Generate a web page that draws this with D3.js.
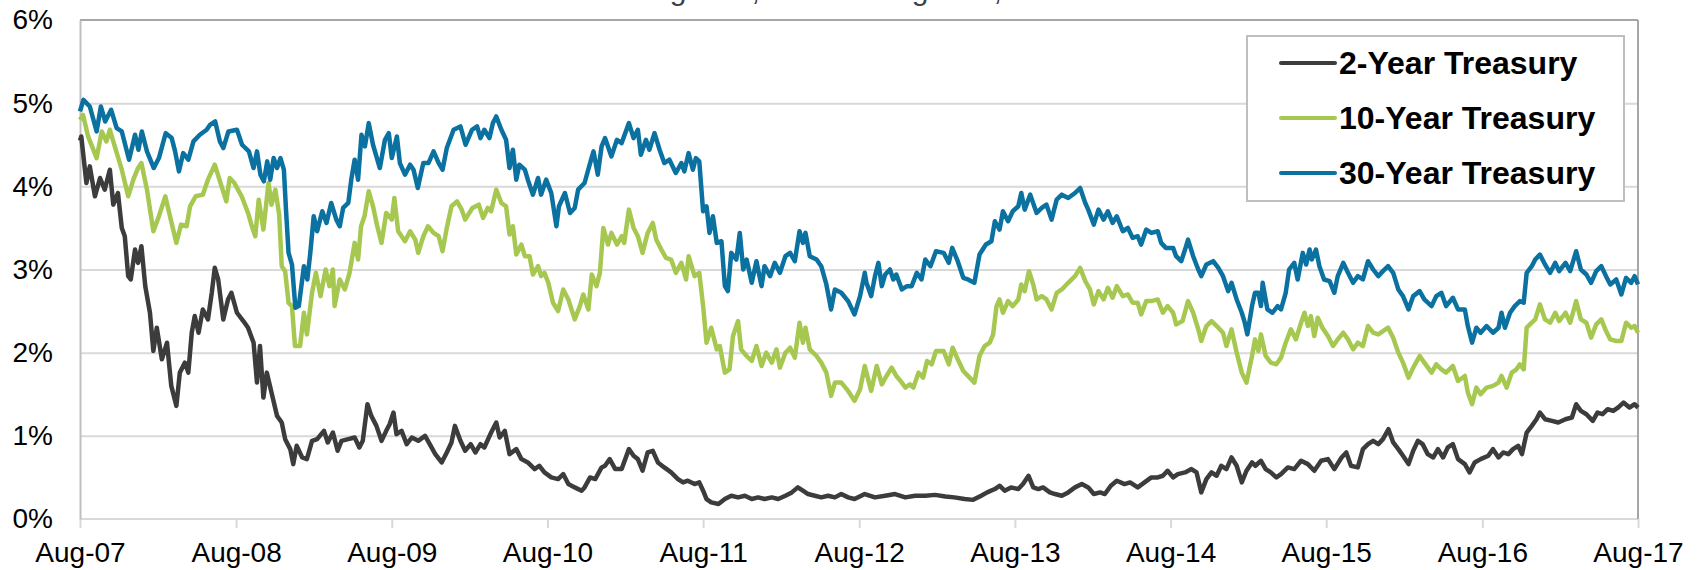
<!DOCTYPE html>
<html><head><meta charset="utf-8">
<script src="https://cdn.jsdelivr.net/npm/d3@7"></script>
<style>body{margin:0;background:#fff;} svg{display:block;font-family:"Liberation Sans",Arial,sans-serif;}</style>
</head><body><svg id="chart" width="1701" height="570"></svg>
<script>
const titleText = "August 1, 2007 to August 1, 2017";
const seriesNames = ["2-Year Treasury", "10-Year Treasury", "30-Year Treasury"];
const seriesColors = ["#3c3c3c", "#a6c850", "#0a71a0"];
const yTicks = [0, 1, 2, 3, 4, 5, 6];
const xTickDates = ["2007-08-01","2008-08-01","2009-08-01","2010-08-01","2011-08-01","2012-08-01","2013-08-01","2014-08-01","2015-08-01","2016-08-01","2017-08-01"];
const xTickLabels = ["Aug-07","Aug-08","Aug-09","Aug-10","Aug-11","Aug-12","Aug-13","Aug-14","Aug-15","Aug-16","Aug-17"];

const dates2y = ["2007-08-01","2007-08-04","2007-08-16","2007-08-24","2007-09-05","2007-09-17","2007-09-28","2007-10-10","2007-10-18","2007-10-29","2007-11-07","2007-11-14","2007-11-22","2007-11-28","2007-12-08","2007-12-15","2007-12-23",
"2008-01-01","2008-01-12","2008-01-20","2008-01-28","2008-02-09","2008-02-21","2008-03-02","2008-03-14","2008-03-22","2008-04-03","2008-04-11","2008-04-19","2008-04-26","2008-05-05","2008-05-15","2008-05-27","2008-06-05","2008-06-12","2008-06-20","2008-07-02","2008-07-13","2008-07-21","2008-08-03","2008-08-18","2008-08-29","2008-09-11","2008-09-19","2008-09-26","2008-10-04","2008-10-12","2008-10-23","2008-11-05","2008-11-16","2008-11-24","2008-12-06","2008-12-13","2008-12-21",
"2009-01-03","2009-01-14","2009-01-26","2009-02-07","2009-02-23","2009-03-04","2009-03-16","2009-03-27","2009-04-05","2009-04-21","2009-05-06","2009-05-17","2009-05-25","2009-06-05","2009-06-14","2009-06-26","2009-07-08","2009-07-19","2009-07-27","2009-08-05","2009-08-12","2009-08-24","2009-09-05","2009-09-17","2009-10-02","2009-10-18","2009-10-29","2009-11-11","2009-11-26","2009-12-08","2009-12-19","2009-12-27",
"2010-01-09","2010-01-20","2010-02-02","2010-02-13","2010-02-25","2010-03-06","2010-03-22","2010-04-03","2010-04-11","2010-04-23","2010-05-04","2010-05-20","2010-06-01","2010-06-16","2010-07-02","2010-07-13","2010-07-25","2010-08-10","2010-08-26","2010-09-07","2010-09-19","2010-10-04","2010-10-20","2010-10-27","2010-11-09","2010-11-21","2010-12-06","2010-12-14","2010-12-25",
"2011-01-07","2011-01-22","2011-02-08","2011-02-19","2011-03-01","2011-03-12","2011-03-24","2011-04-05","2011-04-17","2011-05-02","2011-05-18","2011-06-03","2011-06-15","2011-06-26","2011-07-12","2011-07-23","2011-08-01","2011-08-09","2011-08-20","2011-09-06","2011-09-21","2011-10-06","2011-10-22","2011-11-07","2011-11-23","2011-12-08","2011-12-23",
"2012-01-09","2012-01-24","2012-02-10","2012-02-25","2012-03-10","2012-03-22","2012-04-03","2012-04-19","2012-05-04","2012-05-20","2012-06-05","2012-06-20","2012-07-06","2012-07-21","2012-08-14","2012-09-07","2012-10-01","2012-10-24","2012-11-17","2012-12-10",
"2013-01-03","2013-01-26","2013-02-19","2013-03-12","2013-04-05","2013-04-25","2013-05-14","2013-05-28","2013-06-15","2013-06-26","2013-07-08","2013-07-23","2013-08-09","2013-08-20","2013-09-02","2013-09-13","2013-09-25","2013-10-06","2013-10-22","2013-11-03","2013-11-19","2013-12-04","2013-12-20",
"2014-01-05","2014-01-20","2014-02-02","2014-02-17","2014-02-28","2014-03-14","2014-03-28","2014-04-15","2014-04-28","2014-05-16","2014-06-01","2014-06-17","2014-07-02","2014-07-14","2014-07-25","2014-08-07","2014-08-18","2014-09-04","2014-09-19","2014-10-01","2014-10-12","2014-10-24","2014-11-05","2014-11-17","2014-11-28","2014-12-10","2014-12-22",
"2015-01-03","2015-01-15","2015-01-26","2015-02-08","2015-02-16","2015-03-01","2015-03-12","2015-03-24","2015-04-06","2015-04-17","2015-05-03","2015-05-18","2015-06-03","2015-06-19","2015-07-04","2015-07-20","2015-08-05","2015-08-20","2015-09-06","2015-09-17","2015-09-28","2015-10-14","2015-10-26","2015-11-07","2015-11-19","2015-12-01","2015-12-12","2015-12-25",
"2016-01-05","2016-01-17","2016-01-28","2016-02-10","2016-02-21","2016-03-03","2016-03-14","2016-03-26","2016-04-08","2016-04-19","2016-05-01","2016-05-12","2016-05-24","2016-06-05","2016-06-21","2016-07-02","2016-07-14","2016-07-28","2016-08-15","2016-08-26","2016-09-08","2016-09-19","2016-10-01","2016-10-12","2016-10-24","2016-11-02","2016-11-13","2016-11-25","2016-12-06","2016-12-14","2016-12-26",
"2017-01-11","2017-01-26","2017-02-12","2017-02-27","2017-03-09","2017-03-20","2017-04-02","2017-04-17","2017-04-28","2017-05-10","2017-05-22","2017-06-04","2017-06-15","2017-06-28","2017-07-12","2017-07-24","2017-08-01"];
const yield2y = [4.55,4.60,4.04,4.24,3.88,4.10,3.96,4.20,3.78,3.92,3.50,3.40,2.92,2.88,3.24,3.08,3.28,
2.80,2.48,2.02,2.30,1.92,2.12,1.60,1.36,1.76,1.88,1.76,2.24,2.44,2.24,2.52,2.40,2.72,3.02,2.88,2.40,2.64,2.72,2.48,2.38,2.30,2.12,1.64,2.08,1.46,1.76,1.52,1.24,1.16,0.96,0.84,0.66,0.88,
0.74,0.72,0.94,0.96,1.06,0.92,1.04,0.82,0.94,0.96,0.98,0.86,0.94,1.38,1.24,1.12,0.94,1.06,1.14,1.28,1.02,1.06,0.90,0.98,0.94,1.00,0.90,0.78,0.68,0.80,0.92,1.12,
0.94,0.82,0.90,0.80,0.90,0.86,1.04,1.16,0.98,1.06,0.78,0.84,0.72,0.68,0.60,0.64,0.56,0.50,0.48,0.54,0.42,0.38,0.34,0.38,0.50,0.48,0.62,0.64,0.72,
0.60,0.60,0.84,0.76,0.72,0.58,0.80,0.82,0.68,0.62,0.56,0.48,0.44,0.46,0.42,0.44,0.34,0.24,0.20,0.18,0.24,0.28,0.26,0.28,0.24,0.26,0.24,
0.26,0.24,0.28,0.32,0.38,0.34,0.30,0.28,0.26,0.28,0.26,0.30,0.26,0.24,0.30,0.26,0.28,0.30,0.26,0.28,
0.28,0.29,0.27,0.26,0.24,0.23,0.28,0.32,0.36,0.40,0.34,0.38,0.36,0.42,0.52,0.38,0.36,0.38,0.32,0.30,0.28,0.32,0.38,
0.42,0.38,0.30,0.32,0.30,0.40,0.46,0.42,0.44,0.38,0.44,0.50,0.50,0.52,0.58,0.50,0.54,0.56,0.60,0.56,0.32,0.48,0.56,0.52,0.64,0.60,0.74,
0.64,0.44,0.58,0.68,0.64,0.70,0.60,0.56,0.50,0.54,0.62,0.60,0.70,0.66,0.58,0.70,0.72,0.60,0.74,0.80,0.64,0.62,0.84,0.90,0.94,0.90,0.96,1.08,
0.92,0.84,0.76,0.66,0.82,0.94,0.90,0.78,0.74,0.84,0.74,0.86,0.90,0.72,0.66,0.56,0.68,0.72,0.76,0.84,0.74,0.80,0.78,0.84,0.88,0.78,1.04,1.12,1.20,1.28,1.20,
1.18,1.16,1.20,1.22,1.38,1.30,1.26,1.18,1.28,1.26,1.32,1.30,1.34,1.40,1.34,1.38,1.34];

const dates10y = ["2007-08-01","2007-08-08","2007-08-20","2007-09-09","2007-09-21","2007-10-02","2007-10-10","2007-10-25","2007-11-07","2007-11-22","2007-12-04","2007-12-15","2007-12-23",
"2008-01-05","2008-01-20","2008-02-02","2008-02-17","2008-02-28","2008-03-14","2008-03-25","2008-04-07","2008-04-15","2008-04-28","2008-05-15","2008-05-27","2008-06-12","2008-06-28","2008-07-09","2008-07-17","2008-07-28","2008-08-14","2008-08-29","2008-09-07","2008-09-15","2008-09-23","2008-10-04","2008-10-16","2008-10-23","2008-11-01","2008-11-10","2008-11-16","2008-11-24","2008-12-02","2008-12-10","2008-12-17","2008-12-29",
"2009-01-07","2009-01-14","2009-01-26","2009-02-04","2009-02-15","2009-02-27","2009-03-08","2009-03-16","2009-03-20","2009-04-01","2009-04-13","2009-04-24","2009-05-06","2009-05-14","2009-05-21","2009-05-29","2009-06-08","2009-06-18","2009-06-28","2009-07-08","2009-07-19","2009-08-01","2009-08-07","2009-08-16","2009-09-01","2009-09-13","2009-09-25","2009-10-02","2009-10-14","2009-10-25","2009-11-07","2009-11-19","2009-11-28","2009-12-08","2009-12-19",
"2010-01-01","2010-01-12","2010-01-20","2010-02-06","2010-02-21","2010-03-03","2010-03-14","2010-03-22","2010-04-03","2010-04-15","2010-04-26","2010-05-04","2010-05-12","2010-05-20","2010-06-01","2010-06-09","2010-06-20","2010-06-28","2010-07-10","2010-07-17","2010-07-25","2010-08-03","2010-08-14","2010-08-26","2010-09-07","2010-09-19","2010-10-04","2010-10-16","2010-10-24","2010-11-05","2010-11-13","2010-11-24","2010-12-02","2010-12-10","2010-12-21","2010-12-29",
"2011-01-11","2011-01-22","2011-01-28","2011-02-08","2011-02-19","2011-03-01","2011-03-12","2011-03-24","2011-04-05","2011-04-13","2011-04-25","2011-05-06","2011-05-18","2011-05-29","2011-06-11","2011-06-22","2011-06-28","2011-07-12","2011-07-23","2011-08-01","2011-08-09","2011-08-20","2011-09-02","2011-09-09","2011-09-21","2011-10-02","2011-10-10","2011-10-22","2011-10-29","2011-11-11","2011-11-23","2011-12-04","2011-12-16","2011-12-27",
"2012-01-09","2012-01-20","2012-01-28","2012-02-10","2012-02-21","2012-03-03","2012-03-14","2012-03-22","2012-03-28","2012-04-07","2012-04-23","2012-05-04","2012-05-16","2012-05-27","2012-06-05","2012-06-20","2012-07-06","2012-07-21","2012-08-03","2012-08-14","2012-08-18","2012-08-29","2012-09-11","2012-09-23","2012-10-04","2012-10-16","2012-10-27","2012-11-09","2012-11-17","2012-11-28","2012-12-06","2012-12-18","2012-12-29",
"2013-01-07","2013-01-18","2013-01-28","2013-02-15","2013-02-27","2013-03-08","2013-03-20","2013-04-02","2013-04-17","2013-04-28","2013-05-10","2013-05-22","2013-06-03","2013-06-11","2013-06-19","2013-06-26","2013-07-04","2013-07-16","2013-07-27","2013-08-09","2013-08-16","2013-08-24","2013-09-03","2013-09-13","2013-09-21","2013-10-03","2013-10-14","2013-10-26","2013-11-07","2013-11-19","2013-12-04","2013-12-20",
"2014-01-01","2014-01-13","2014-01-24","2014-02-02","2014-02-13","2014-02-25","2014-03-07","2014-03-18","2014-03-28","2014-04-11","2014-04-23","2014-05-04","2014-05-16","2014-05-24","2014-06-05","2014-06-17","2014-07-02","2014-07-14","2014-07-25","2014-08-07","2014-08-14","2014-08-29","2014-09-11","2014-09-23","2014-10-05","2014-10-12","2014-10-24","2014-11-05","2014-11-21","2014-12-02","2014-12-10","2014-12-22",
"2015-01-03","2015-01-15","2015-01-26","2015-02-08","2015-02-15","2015-02-23","2015-03-01","2015-03-12","2015-03-24","2015-04-06","2015-04-17","2015-04-28","2015-05-10","2015-05-22","2015-06-03","2015-06-11","2015-06-19","2015-06-26","2015-07-04","2015-07-12","2015-07-23","2015-08-05","2015-08-17","2015-08-28","2015-09-10","2015-09-21","2015-10-03","2015-10-14","2015-10-26","2015-11-07","2015-11-19","2015-12-01","2015-12-12","2015-12-24",
"2016-01-05","2016-01-17","2016-01-28","2016-02-10","2016-02-21","2016-03-07","2016-03-18","2016-04-04","2016-04-15","2016-04-27","2016-05-08","2016-05-24","2016-06-05","2016-06-21","2016-06-28","2016-07-08","2016-07-18","2016-07-28","2016-08-11","2016-08-26","2016-09-08","2016-09-15","2016-09-27","2016-10-09","2016-10-20","2016-10-28","2016-11-06","2016-11-13","2016-11-25","2016-12-03","2016-12-14","2016-12-26",
"2017-01-07","2017-01-19","2017-01-28","2017-02-12","2017-02-23","2017-03-09","2017-03-20","2017-04-02","2017-04-13","2017-04-25","2017-05-07","2017-05-18","2017-05-28","2017-06-11","2017-06-23","2017-07-04","2017-07-16","2017-07-24","2017-08-01"];
const yield10y = [4.80,4.86,4.60,4.34,4.66,4.54,4.68,4.42,4.20,3.88,4.08,4.22,4.28,
3.96,3.46,3.64,3.88,3.64,3.32,3.54,3.52,3.76,3.88,3.90,4.08,4.26,4.00,3.82,4.10,4.04,3.88,3.68,3.52,3.40,3.84,3.48,4.04,3.78,3.96,3.66,3.04,2.98,2.60,2.56,2.08,2.08,
2.48,2.22,2.72,2.96,2.68,3.00,2.80,3.00,2.56,2.88,2.76,2.96,3.32,3.12,3.52,3.64,3.94,3.76,3.52,3.32,3.68,3.60,3.86,3.46,3.34,3.46,3.36,3.20,3.40,3.52,3.44,3.40,3.22,3.50,3.76,
3.82,3.72,3.60,3.74,3.78,3.62,3.74,3.70,3.96,3.80,3.76,3.42,3.52,3.18,3.30,3.16,3.16,2.94,3.04,2.92,2.96,2.84,2.60,2.50,2.76,2.64,2.40,2.56,2.70,2.52,2.94,2.80,2.96,3.50,3.30,3.44,
3.30,3.40,3.32,3.72,3.50,3.40,3.20,3.44,3.56,3.36,3.24,3.14,3.12,2.96,3.08,2.88,3.16,2.92,2.96,2.56,2.12,2.30,2.04,2.08,1.76,1.80,2.20,2.38,2.04,1.96,1.90,2.08,1.84,2.00,
1.88,2.04,1.82,2.00,2.06,1.94,2.36,2.12,2.30,2.04,1.96,1.88,1.76,1.48,1.64,1.64,1.54,1.42,1.56,1.84,1.76,1.54,1.84,1.62,1.72,1.82,1.72,1.64,1.58,1.62,1.58,1.76,1.70,
1.90,1.86,2.02,2.02,1.86,2.06,1.92,1.78,1.70,1.64,1.96,2.08,2.12,2.22,2.56,2.64,2.48,2.62,2.56,2.64,2.82,2.74,2.98,2.82,2.64,2.68,2.64,2.52,2.72,2.76,2.84,2.92,
3.02,2.86,2.76,2.58,2.74,2.64,2.78,2.66,2.80,2.68,2.70,2.60,2.60,2.46,2.62,2.62,2.64,2.48,2.56,2.48,2.34,2.38,2.62,2.48,2.28,2.14,2.32,2.38,2.30,2.24,2.08,2.28,
2.00,1.76,1.64,1.96,2.16,2.02,2.22,1.96,1.88,1.86,1.94,2.12,2.28,2.16,2.36,2.48,2.32,2.44,2.20,2.42,2.30,2.20,2.08,2.16,2.24,2.16,2.04,2.12,2.08,2.32,2.24,2.22,2.26,2.30,
2.18,2.00,1.88,1.70,1.82,1.96,1.88,1.76,1.86,1.80,1.76,1.84,1.66,1.72,1.52,1.38,1.58,1.50,1.58,1.60,1.64,1.72,1.58,1.76,1.80,1.86,1.80,2.30,2.36,2.40,2.58,2.40,
2.36,2.48,2.38,2.48,2.36,2.62,2.40,2.36,2.18,2.34,2.40,2.26,2.16,2.14,2.14,2.36,2.30,2.32,2.24];

const dates30y = ["2007-08-01","2007-08-09","2007-08-24","2007-09-09","2007-09-19","2007-09-29","2007-10-13","2007-10-26","2007-11-07","2007-11-24","2007-12-08","2007-12-16","2007-12-24",
"2008-01-05","2008-01-21","2008-02-02","2008-02-18","2008-03-03","2008-03-11","2008-03-20","2008-03-30","2008-04-11","2008-04-23","2008-05-08","2008-05-24","2008-06-01","2008-06-13","2008-06-24","2008-07-02","2008-07-14","2008-08-03","2008-08-15","2008-08-31","2008-09-11","2008-09-19","2008-09-27","2008-10-05","2008-10-13","2008-10-20","2008-10-28","2008-11-05","2008-11-13","2008-11-21","2008-11-26","2008-12-02","2008-12-10","2008-12-18","2008-12-26",
"2009-01-07","2009-01-15","2009-01-22","2009-01-30","2009-02-07","2009-02-19","2009-03-01","2009-03-12","2009-03-24","2009-04-01","2009-04-09","2009-04-21","2009-04-28","2009-05-06","2009-05-14","2009-05-22","2009-05-30","2009-06-08","2009-06-18","2009-07-04","2009-07-16","2009-07-25","2009-08-01","2009-08-13","2009-08-20","2009-09-01","2009-09-13","2009-09-21","2009-10-01","2009-10-14","2009-10-26","2009-11-07","2009-11-19","2009-11-28","2009-12-08","2009-12-24",
"2010-01-09","2010-01-21","2010-02-05","2010-02-17","2010-02-25","2010-03-06","2010-03-18","2010-03-26","2010-04-03","2010-04-15","2010-04-26","2010-05-04","2010-05-12","2010-05-20","2010-05-27","2010-06-09","2010-06-16","2010-06-28","2010-07-10","2010-07-17","2010-07-29","2010-08-10","2010-08-22","2010-08-28","2010-09-11","2010-09-23","2010-10-04","2010-10-12","2010-10-27","2010-11-09","2010-11-17","2010-11-27","2010-12-06","2010-12-14","2010-12-29",
"2011-01-11","2011-01-22","2011-02-08","2011-02-19","2011-03-01","2011-03-08","2011-03-20","2011-03-28","2011-04-09","2011-04-21","2011-05-02","2011-05-14","2011-05-29","2011-06-11","2011-06-18","2011-06-28","2011-07-08","2011-07-15","2011-07-23","2011-08-01","2011-08-09","2011-08-16","2011-08-24","2011-09-02","2011-09-13","2011-09-21","2011-09-28","2011-10-06","2011-10-18","2011-10-26","2011-11-03","2011-11-11","2011-11-23","2011-12-04","2011-12-16","2011-12-23",
"2012-01-05","2012-01-16","2012-01-28","2012-02-10","2012-02-21","2012-03-03","2012-03-14","2012-03-22","2012-03-28","2012-04-07","2012-04-23","2012-05-04","2012-05-16","2012-05-27","2012-06-05","2012-06-20","2012-07-06","2012-07-21","2012-08-03","2012-08-14","2012-08-18","2012-08-29","2012-09-07","2012-09-15","2012-09-23","2012-10-01","2012-10-12","2012-10-20","2012-10-27","2012-11-09","2012-11-21","2012-12-02","2012-12-14","2012-12-25",
"2013-01-03","2013-01-15","2013-01-28","2013-02-15","2013-02-27","2013-03-07","2013-03-20","2013-04-02","2013-04-13","2013-04-28","2013-05-10","2013-05-25","2013-06-07","2013-06-15","2013-06-26","2013-07-04","2013-07-16","2013-07-27","2013-08-09","2013-08-16","2013-08-24","2013-09-06","2013-09-21","2013-10-03","2013-10-14","2013-10-26","2013-11-07","2013-11-19","2013-12-04","2013-12-20",
"2014-01-01","2014-01-13","2014-01-20","2014-02-02","2014-02-13","2014-02-25","2014-03-07","2014-03-18","2014-03-28","2014-04-11","2014-04-23","2014-05-04","2014-05-16","2014-05-24","2014-06-05","2014-06-17","2014-07-02","2014-07-10","2014-07-21","2014-08-07","2014-08-14","2014-08-26","2014-09-04","2014-09-11","2014-09-23","2014-10-05","2014-10-12","2014-10-24","2014-11-09","2014-11-21","2014-12-02","2014-12-14","2014-12-22",
"2015-01-03","2015-01-15","2015-01-22","2015-01-28","2015-02-08","2015-02-15","2015-02-23","2015-03-01","2015-03-05","2015-03-16","2015-03-28","2015-04-09","2015-04-17","2015-04-28","2015-05-06","2015-05-18","2015-05-26","2015-06-07","2015-06-15","2015-06-23","2015-06-28","2015-07-08","2015-07-16","2015-07-27","2015-08-09","2015-08-20","2015-08-28","2015-09-10","2015-09-21","2015-10-03","2015-10-14","2015-10-26","2015-11-07","2015-11-19","2015-12-01","2015-12-12","2015-12-24",
"2016-01-05","2016-01-17","2016-01-28","2016-02-10","2016-02-21","2016-03-07","2016-03-18","2016-04-04","2016-04-15","2016-04-27","2016-05-08","2016-05-24","2016-06-05","2016-06-21","2016-06-28","2016-07-08","2016-07-18","2016-07-28","2016-08-11","2016-08-26","2016-09-08","2016-09-15","2016-09-23","2016-10-05","2016-10-16","2016-10-28","2016-11-06","2016-11-13","2016-11-25","2016-12-03","2016-12-14","2016-12-26",
"2017-01-07","2017-01-19","2017-01-28","2017-02-12","2017-02-23","2017-03-09","2017-03-20","2017-04-02","2017-04-13","2017-04-25","2017-05-07","2017-05-18","2017-05-28","2017-06-11","2017-06-23","2017-07-04","2017-07-16","2017-07-24","2017-08-01"];
const yield30y = [4.90,5.04,4.96,4.66,4.96,4.78,4.92,4.70,4.66,4.32,4.62,4.44,4.66,
4.42,4.22,4.34,4.64,4.58,4.42,4.18,4.40,4.32,4.54,4.62,4.68,4.74,4.78,4.54,4.46,4.66,4.68,4.50,4.42,4.22,4.42,4.14,4.06,4.30,4.08,4.34,4.22,4.34,4.20,3.72,3.20,3.06,2.54,2.56,
3.04,2.88,3.20,3.64,3.46,3.70,3.56,3.80,3.60,3.52,3.74,3.80,4.08,4.32,4.08,4.62,4.48,4.76,4.50,4.22,4.56,4.64,4.34,4.60,4.28,4.14,4.26,4.20,3.98,4.28,4.28,4.42,4.28,4.20,4.46,4.68,
4.72,4.50,4.68,4.72,4.58,4.68,4.58,4.76,4.84,4.68,4.56,4.22,4.44,4.08,4.26,4.20,4.08,3.90,4.10,3.90,4.08,3.92,3.52,3.76,3.92,3.68,3.74,3.96,4.04,4.28,4.42,4.14,4.48,4.58,4.36,
4.56,4.52,4.76,4.58,4.68,4.38,4.56,4.44,4.64,4.44,4.28,4.32,4.16,4.28,4.18,4.40,4.20,4.34,4.30,3.70,3.76,3.44,3.64,3.32,3.34,2.80,2.74,3.20,3.12,3.44,3.00,3.12,2.84,3.10,2.80,3.04,
2.92,3.08,2.96,3.16,3.20,3.10,3.46,3.32,3.44,3.16,3.12,3.04,2.82,2.52,2.76,2.72,2.62,2.46,2.68,2.96,2.84,2.68,2.92,3.08,2.80,2.94,3.00,2.88,2.94,2.76,2.80,2.80,2.96,2.88,
3.12,3.04,3.22,3.20,3.08,3.26,3.10,2.90,2.88,2.84,3.18,3.30,3.34,3.58,3.48,3.70,3.58,3.70,3.76,3.92,3.72,3.90,3.68,3.74,3.78,3.60,3.84,3.90,3.86,3.92,
3.98,3.80,3.72,3.54,3.72,3.60,3.70,3.56,3.64,3.46,3.50,3.38,3.40,3.30,3.48,3.44,3.46,3.32,3.26,3.26,3.16,3.10,3.24,3.36,3.16,3.00,2.92,3.06,3.10,3.02,2.92,2.74,2.84,
2.64,2.48,2.36,2.22,2.56,2.72,2.72,2.56,2.84,2.52,2.48,2.56,2.52,2.72,3.00,3.08,2.88,3.20,3.06,3.24,3.12,3.24,3.04,2.88,2.86,2.72,2.92,3.08,2.96,2.84,2.92,2.88,3.10,3.00,2.92,2.98,3.04,
2.96,2.76,2.68,2.52,2.68,2.74,2.64,2.56,2.68,2.72,2.56,2.66,2.52,2.52,2.32,2.12,2.30,2.24,2.32,2.24,2.30,2.48,2.30,2.48,2.56,2.62,2.60,2.96,3.04,3.12,3.18,3.06,
2.96,3.08,2.98,3.08,2.98,3.22,3.00,2.94,2.84,2.98,3.04,2.92,2.82,2.88,2.70,2.90,2.84,2.92,2.82];

const W = 1701, H = 570;
const M = {left: 80, right: 1638, top: 20, bottom: 519};
const parse = d3.timeParse("%Y-%m-%d");
const svg = d3.select("#chart");
svg.append("rect").attr("width", W).attr("height", H).attr("fill", "#fff");

const x = d3.scaleTime()
  .domain([parse(xTickDates[0]), parse(xTickDates[xTickDates.length - 1])])
  .range([M.left, M.right]);
const y = d3.scaleLinear().domain([0, 6]).range([M.bottom, M.top]);

// title (mostly cut off at the top edge, as in the source image)
svg.append("text").attr("x", 855).attr("y", 0).attr("text-anchor", "middle")
  .attr("font-size", 30).attr("fill", "#404040").text(titleText);

// gridlines
svg.append("g").attr("transform", `translate(${M.left},0)`)
  .call(d3.axisLeft(y).tickValues(yTicks.slice(1, -1)).tickSize(-(M.right - M.left)).tickFormat(""))
  .call(g => g.select(".domain").remove())
  .call(g => g.selectAll("line").attr("stroke", "#d9d9d9").attr("stroke-width", 2));

// bottom axis
const xAxis = svg.append("g").attr("transform", `translate(0,${M.bottom})`)
  .call(d3.axisBottom(x).tickValues(xTickDates.map(parse)).tickSize(9).tickPadding(14)
    .tickFormat((d, i) => xTickLabels[i]));
xAxis.select(".domain").attr("stroke", "#d9d9d9").attr("stroke-width", 2).attr("d", `M${M.left},0H${M.right}`);
xAxis.selectAll(".tick line").attr("stroke", "#d9d9d9").attr("stroke-width", 2);
xAxis.selectAll(".tick text").attr("font-size", 28).attr("fill", "#000")
  .attr("font-family", "'Liberation Sans', Arial, sans-serif");

// plot border (top, right) and value axis line
svg.append("line").attr("x1", M.left).attr("x2", M.right).attr("y1", M.top).attr("y2", M.top)
  .attr("stroke", "#a6a6a6").attr("stroke-width", 2);
svg.append("line").attr("x1", M.right).attr("x2", M.right).attr("y1", M.top).attr("y2", M.bottom)
  .attr("stroke", "#a6a6a6").attr("stroke-width", 2);

const yAxis = svg.append("g").attr("transform", `translate(${M.left},0)`)
  .call(d3.axisLeft(y).tickValues(yTicks).tickSize(0).tickPadding(27).tickFormat(d => d + "%"));
yAxis.select(".domain").attr("stroke", "#bfbfbf").attr("stroke-width", 2);
yAxis.selectAll(".tick text").attr("font-size", 28).attr("fill", "#000")
  .attr("font-family", "'Liberation Sans', Arial, sans-serif");

// series
const series = [
  {name: seriesNames[0], dates: dates2y, values: yield2y, color: seriesColors[0]},
  {name: seriesNames[1], dates: dates10y, values: yield10y, color: seriesColors[1]},
  {name: seriesNames[2], dates: dates30y, values: yield30y, color: seriesColors[2]}
];
const line = d3.line().x(d => x(d[0])).y(d => y(d[1]));
series.forEach(s => {
  const pts = s.dates.map((d, i) => [parse(d), s.values[i]]);
  svg.append("path").datum(pts).attr("d", line).attr("fill", "none")
    .attr("stroke", s.color).attr("stroke-width", 4.5).attr("stroke-linejoin", "round");
});

// legend
const lg = svg.append("g");
lg.append("rect").attr("x", 1247).attr("y", 36).attr("width", 377).attr("height", 165)
  .attr("fill", "#fff").attr("stroke", "#bfbfbf").attr("stroke-width", 2);
series.forEach((s, i) => {
  const cy = 63 + i * 55;
  lg.append("line").attr("x1", 1281).attr("x2", 1335).attr("y1", cy).attr("y2", cy)
    .attr("stroke", s.color).attr("stroke-width", 4).attr("stroke-linecap", "round");
  lg.append("text").attr("x", 1339).attr("y", cy + 11).attr("font-size", 32).attr("font-weight", "bold")
    .attr("fill", "#000").text(s.name);
});
</script>
</body></html>
